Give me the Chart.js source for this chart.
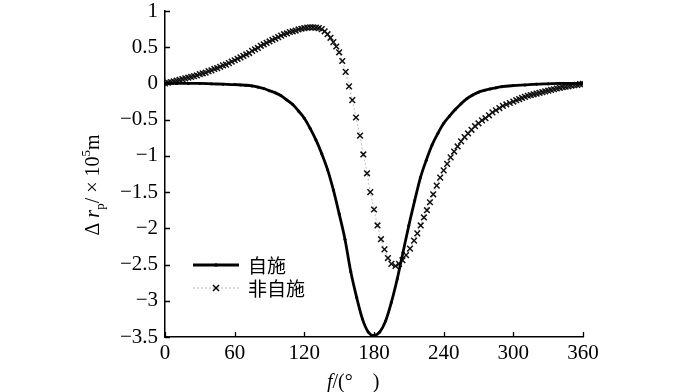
<!DOCTYPE html>
<html>
<head>
<meta charset="utf-8">
<script src="https://cdn.jsdelivr.net/npm/chart.js@4.4.1/dist/chart.umd.min.js"></script>
<style>
  html, body { margin: 0; padding: 0; background: #fff; }
  #chart { display: block; }
</style>
</head>
<body>
<canvas id="chart" width="700" height="392"></canvas>
<script>
const xTicks = [0, 60, 120, 180, 240, 300, 360];
const yTicks = [1, 0.5, 0, -0.5, -1, -1.5, -2, -2.5, -3, -3.5];
const seriesNames = ["自施", "非自施"];

// 自施 (solid line)
const selfF = [0, 10, 20, 30, 40, 50, 60, 65, 70, 75, 80, 85, 90, 95, 100, 105, 110, 115, 120, 125,
  130, 135, 140, 145, 150, 155, 160, 165, 170, 175, 180, 185, 190, 195, 200, 205, 210, 215, 220,
  225, 230, 235, 240, 245, 250, 255, 260, 265, 270, 275, 280, 285, 290, 300, 310, 320, 330, 340, 350, 360];
const selfR = [0, 0, 0, 0, -0.005, -0.01, -0.015, -0.02, -0.025, -0.035, -0.05, -0.07, -0.1, -0.13,
  -0.17, -0.23, -0.29, -0.38, -0.48, -0.62, -0.78, -0.97, -1.19, -1.47, -1.8, -2.15, -2.6, -2.95,
  -3.25, -3.43, -3.48, -3.43, -3.28, -3.02, -2.7, -2.33, -1.96, -1.62, -1.3, -1.06, -0.85, -0.69,
  -0.55, -0.45, -0.36, -0.28, -0.21, -0.16, -0.12, -0.095, -0.075, -0.06, -0.045, -0.03, -0.02,
  -0.01, -0.005, 0, 0, 0];

// 非自施 (x markers)
const otherF = [0, 2.5, 5, 7.5, 10, 12.5, 15, 17.5, 20, 22.5, 25, 27.5, 30, 32.5, 35, 37.5, 40, 42.5,
  45, 47.5, 50, 52.5, 55, 57.5, 60, 62.5, 65, 67.5, 70, 72.5, 75, 77.5, 80, 82.5, 85, 87.5, 90, 92.5,
  95, 97.5, 100, 102.5, 105, 107.5, 110, 112.5, 115, 117.5, 120, 122.5, 125, 127.5, 130, 132.5, 135,
  137.5, 140, 142.5, 145, 147.5, 150, 152.7, 155.6, 158.5, 161.3, 164.5, 168, 170.8, 174, 176.8, 180,
  183, 186, 189, 192, 195, 198.5, 201.5, 204.5, 207.6, 211, 214.5, 217.3, 220.2, 223, 225.6, 228.2,
  231, 234, 237, 240, 243, 246, 249, 252, 255, 258, 261, 264, 267, 270, 273, 276, 279, 282, 285, 288,
  291, 294, 297, 300, 302.5, 305, 307.5, 310, 312.5, 315, 317.5, 320, 322.5, 325, 327.5, 330, 332.5,
  335, 337.5, 340, 342.5, 345, 347.5, 350, 352.5, 355, 357.5, 360];
const otherR = [0, 0.01, 0.02, 0.03, 0.04, 0.05, 0.06, 0.07, 0.08, 0.09, 0.1, 0.11, 0.13, 0.14, 0.15,
  0.17, 0.18, 0.2, 0.21, 0.23, 0.25, 0.26, 0.28, 0.3, 0.32, 0.34, 0.36, 0.38, 0.4, 0.42, 0.45, 0.47,
  0.49, 0.52, 0.54, 0.56, 0.58, 0.6, 0.62, 0.64, 0.66, 0.68, 0.69, 0.71, 0.72, 0.73, 0.745, 0.755,
  0.765, 0.77, 0.775, 0.775, 0.77, 0.765, 0.75, 0.72, 0.68, 0.63, 0.57, 0.51, 0.43, 0.31, 0.16, -0.04,
  -0.23, -0.47, -0.72, -0.98, -1.24, -1.5, -1.74, -1.96, -2.15, -2.29, -2.41, -2.49, -2.52, -2.49,
  -2.44, -2.37, -2.28, -2.17, -2.07, -1.96, -1.85, -1.75, -1.64, -1.53, -1.41, -1.3, -1.2, -1.11,
  -1.02, -0.94, -0.87, -0.8, -0.74, -0.69, -0.64, -0.59, -0.55, -0.51, -0.48, -0.44, -0.4, -0.37,
  -0.34, -0.31, -0.29, -0.27, -0.25, -0.23, -0.215, -0.2, -0.185, -0.17, -0.16, -0.15, -0.14, -0.13,
  -0.12, -0.11, -0.1, -0.09, -0.08, -0.07, -0.06, -0.05, -0.045, -0.04, -0.03, -0.025, -0.02, -0.01,
  -0.005, 0];

const SERIF = "'Liberation Serif', 'DejaVu Serif', serif";
const CJK = "'Noto Sans CJK SC', sans-serif";

function fmt(v) {
  return String(v).replace("-", "\u2212");
}

const innerTicks = {
  id: "innerTicks",
  afterDraw(chart) {
    const ctx = chart.ctx;
    const area = chart.chartArea;
    const xs = chart.scales.x;
    const ys = chart.scales.y;
    ctx.save();
    ctx.strokeStyle = "#000";
    ctx.lineWidth = 1.3;
    ctx.beginPath();
    xTicks.forEach(v => {
      const px = Math.round(xs.getPixelForValue(v)) + .5;
      ctx.moveTo(px, area.bottom);
      ctx.lineTo(px, area.bottom - 5);
    });
    yTicks.forEach(v => {
      const py = Math.round(ys.getPixelForValue(v)) + .5;
      ctx.moveTo(area.left, py);
      ctx.lineTo(area.left + 5, py);
    });
    ctx.stroke();
    ctx.restore();
  },
};

const titles = {
  id: "titles",
  afterDraw(chart) {
    const ctx = chart.ctx;
    const area = chart.chartArea;
    ctx.save();
    ctx.fillStyle = "#000";
    ctx.textBaseline = "alphabetic";

    // x title: f/(°  )
    let x = 327;
    const yb = 388;
    ctx.font = "italic 20px " + SERIF;
    ctx.fillText("f", x, yb);
    x += ctx.measureText("f").width;
    ctx.font = "20px " + SERIF;
    ctx.fillText("/(°\u2003)", x, yb);

    // y title: Δr_p/×10^5 m (rotated)
    const parts = [
      { t: "Δ", f: "20px " + SERIF, dy: 0 },
      { t: " ", f: "20px " + SERIF, dy: 0 },
      { t: "r", f: "italic 20px " + SERIF, dy: 0 },
      { t: "p", f: "13px " + SERIF, dy: 5 },
      { t: "/ × 10", f: "20px " + SERIF, dy: 0 },
      { t: "5", f: "13px " + SERIF, dy: -9 },
      { t: "m", f: "20px " + SERIF, dy: 0 },
    ];
    let total = 0;
    parts.forEach(p => { ctx.font = p.f; total += ctx.measureText(p.t).width; });
    ctx.translate(99, 185);
    ctx.rotate(-Math.PI / 2);
    let cx = -total / 2;
    parts.forEach(p => {
      ctx.font = p.f;
      ctx.fillText(p.t, cx, p.dy);
      cx += ctx.measureText(p.t).width;
    });
    ctx.restore();

    // legend
    ctx.save();
    const lx0 = area.left + 28;
    const lx1 = area.left + 74;
    const mid = (lx0 + lx1) / 2;
    const rows = [265, 288];
    ctx.strokeStyle = "#000";
    ctx.lineWidth = 2.8;
    ctx.beginPath();
    ctx.moveTo(lx0, rows[0]);
    ctx.lineTo(lx1, rows[0]);
    ctx.stroke();
    ctx.fillStyle = "#000";
    ctx.beginPath();
    ctx.arc(mid, rows[0], 1.8, 0, Math.PI * 2);
    ctx.fill();

    ctx.strokeStyle = "#b8b8b8";
    ctx.lineWidth = 1.2;
    ctx.setLineDash([2, 2]);
    ctx.beginPath();
    ctx.moveTo(lx0, rows[1]);
    ctx.lineTo(lx1, rows[1]);
    ctx.stroke();
    ctx.setLineDash([]);
    ctx.strokeStyle = "#000";
    ctx.lineWidth = 1.5;
    ctx.beginPath();
    ctx.moveTo(mid - 3, rows[1] - 3);
    ctx.lineTo(mid + 3, rows[1] + 3);
    ctx.moveTo(mid + 3, rows[1] - 3);
    ctx.lineTo(mid - 3, rows[1] + 3);
    ctx.stroke();

    ctx.font = "19px " + CJK;
    ctx.textBaseline = "middle";
    ctx.fillText(seriesNames[0], lx1 + 9, rows[0] + 1);
    ctx.fillText(seriesNames[1], lx1 + 9, rows[1] + 1);
    ctx.restore();
  },
};

new Chart(document.getElementById("chart").getContext("2d"), {
  type: "line",
  data: {
    datasets: [
      {
        label: seriesNames[0],
        data: selfF.map((f, i) => ({ x: f, y: selfR[i] })),
        borderColor: "#000",
        backgroundColor: "#000",
        borderWidth: 2.8,
        pointRadius: 1.5,
        pointBorderWidth: 0,
        cubicInterpolationMode: "monotone",
        fill: false,
      },
      {
        label: seriesNames[1],
        data: otherF.map((f, i) => ({ x: f, y: otherR[i] })),
        borderColor: "#bdbdbd",
        borderWidth: 1,
        borderDash: [2, 2],
        pointStyle: "crossRot",
        pointRadius: 4,
        pointBorderColor: "#111",
        pointBorderWidth: 1.5,
        cubicInterpolationMode: "monotone",
        fill: false,
      },
    ],
  },
  options: {
    responsive: false,
    animation: false,
    devicePixelRatio: 1,
    layout: { padding: { top: 11, right: 117, bottom: 0, left: 0 } },
    plugins: {
      legend: { display: false },
      tooltip: { enabled: false },
    },
    scales: {
      x: {
        type: "linear",
        min: 0,
        max: 360,
        afterBuildTicks: s => { s.ticks = xTicks.map(v => ({ value: v })); },
        afterFit: s => { s.height = 55; s.paddingLeft = 0; s.paddingRight = 0; },
        grid: { display: false, drawTicks: false },
        border: { display: true, color: "#000", width: 1.5 },
        ticks: {
          color: "#000",
          padding: 4,
          maxRotation: 0,
          font: { family: SERIF, size: 21 },
          callback: v => fmt(v),
        },
      },
      y: {
        type: "linear",
        min: -3.5,
        max: 1,
        afterBuildTicks: s => { s.ticks = yTicks.map(v => ({ value: v })); },
        afterFit: s => { s.width = 165; s.paddingTop = 0; s.paddingBottom = 0; },
        grid: { display: false, drawTicks: false },
        border: { display: true, color: "#000", width: 1.5 },
        ticks: {
          color: "#000",
          padding: 7,
          font: { family: SERIF, size: 21 },
          callback: v => fmt(v),
        },
      },
    },
  },
  plugins: [innerTicks, titles],
});
</script>
</body>
</html>
